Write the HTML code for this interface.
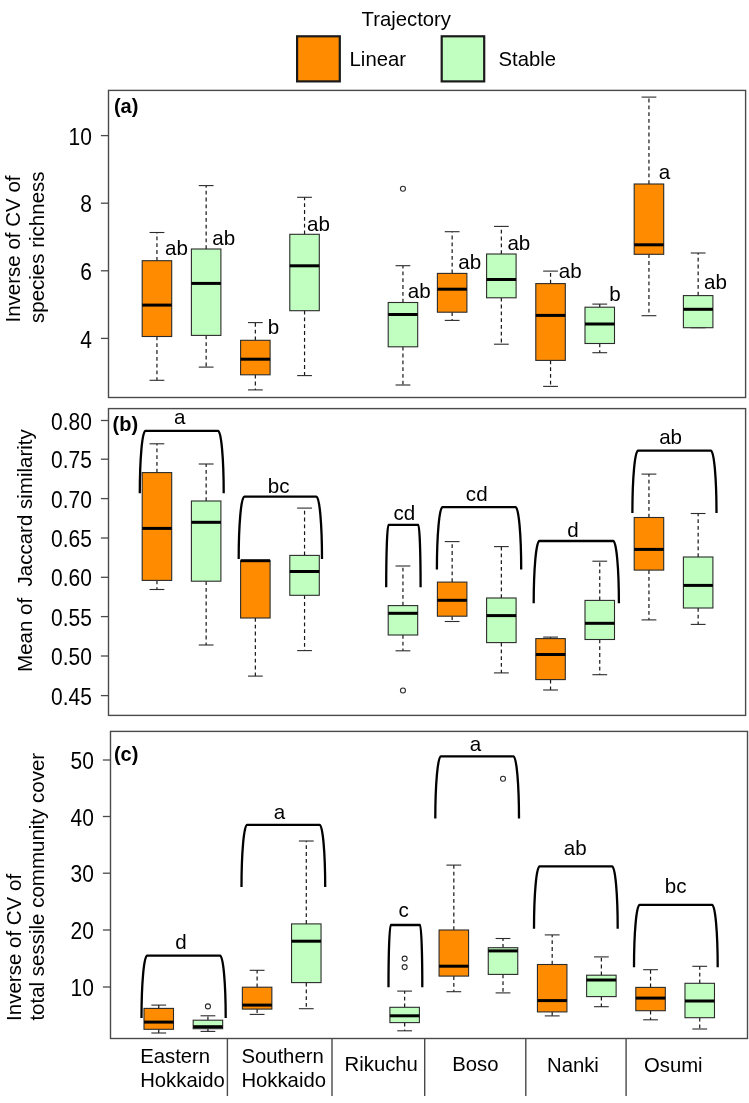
<!DOCTYPE html>
<html><head><meta charset="utf-8"><title>Boxplots</title><style>
html,body{margin:0;padding:0;background:#fff;}
body{width:749px;height:1103px;overflow:hidden;}
svg{display:block;will-change:transform;}
text{font-family:"Liberation Sans",sans-serif;fill:#000000;}

.t{font-size:20.3px;}
.tl{font-size:21.0px;}
.yt{font-size:20.5px;}
.lb{font-size:20.0px;}
.pl{font-size:20px;font-weight:bold;}
.fr{fill:none;stroke:#4a4a4a;stroke-width:1.4;}
.tk{stroke:#4a4a4a;stroke-width:1.3;}
.sp{stroke:#4a4a4a;stroke-width:1.4;}
.wk{stroke:#161616;stroke-width:1.2;stroke-dasharray:3.8 3.0;}
.cp{stroke:#2b2b2b;stroke-width:1.1;}
.bx{stroke:#2b2b2b;stroke-width:1.1;}
.md{stroke:#000;stroke-width:3;}
.ol{fill:none;stroke:#2b2b2b;stroke-width:1.1;}
.br{fill:none;stroke:#000;stroke-width:2.3;}
.lg{stroke:#1a1a1a;stroke-width:2.2;}
</style></head>
<body>
<svg width="749" height="1103" viewBox="0 0 749 1103">
<rect width="749" height="1103" fill="#fff"/>
<text x="361.6" y="25.7" class="t">Trajectory</text>
<rect x="297.1" y="36.3" width="42.7" height="45.1" fill="#FF8C00" class="lg"/>
<rect x="441.7" y="36.3" width="42.5" height="45.1" fill="#C1FFC1" class="lg"/>
<text x="349.6" y="66" class="t">Linear</text>
<text x="498.6" y="65.7" class="t">Stable</text>
<rect x="108.5" y="90.4" width="637.1" height="307.1" class="fr"/>
<line x1="100.9" y1="135.6" x2="108.5" y2="135.6" class="tk"/>
<text transform="translate(91.9,144.7) scale(1,1.12)" class="tl" text-anchor="end">10</text>
<line x1="100.9" y1="203.2" x2="108.5" y2="203.2" class="tk"/>
<text transform="translate(91.9,212.3) scale(1,1.12)" class="tl" text-anchor="end">8</text>
<line x1="100.9" y1="270.8" x2="108.5" y2="270.8" class="tk"/>
<text transform="translate(91.9,279.9) scale(1,1.12)" class="tl" text-anchor="end">6</text>
<line x1="100.9" y1="338.4" x2="108.5" y2="338.4" class="tk"/>
<text transform="translate(91.9,347.5) scale(1,1.12)" class="tl" text-anchor="end">4</text>
<text x="113.9" y="112.6" class="pl">(a)</text>
<rect x="108.5" y="408.6" width="637.1" height="306.8" class="fr"/>
<line x1="100.9" y1="420.5" x2="108.5" y2="420.5" class="tk"/>
<text transform="translate(91.9,429.6) scale(1,1.12)" class="tl" text-anchor="end">0.80</text>
<line x1="100.9" y1="459.2" x2="108.5" y2="459.2" class="tk"/>
<text transform="translate(91.9,468.3) scale(1,1.12)" class="tl" text-anchor="end">0.75</text>
<line x1="100.9" y1="498.6" x2="108.5" y2="498.6" class="tk"/>
<text transform="translate(91.9,507.7) scale(1,1.12)" class="tl" text-anchor="end">0.70</text>
<line x1="100.9" y1="538.0" x2="108.5" y2="538.0" class="tk"/>
<text transform="translate(91.9,547.1) scale(1,1.12)" class="tl" text-anchor="end">0.65</text>
<line x1="100.9" y1="577.3" x2="108.5" y2="577.3" class="tk"/>
<text transform="translate(91.9,586.4) scale(1,1.12)" class="tl" text-anchor="end">0.60</text>
<line x1="100.9" y1="616.6" x2="108.5" y2="616.6" class="tk"/>
<text transform="translate(91.9,625.7) scale(1,1.12)" class="tl" text-anchor="end">0.55</text>
<line x1="100.9" y1="656.0" x2="108.5" y2="656.0" class="tk"/>
<text transform="translate(91.9,665.1) scale(1,1.12)" class="tl" text-anchor="end">0.50</text>
<line x1="100.9" y1="695.6" x2="108.5" y2="695.6" class="tk"/>
<text transform="translate(91.9,704.7) scale(1,1.12)" class="tl" text-anchor="end">0.45</text>
<text x="112.5" y="430.6" class="pl">(b)</text>
<rect x="110.5" y="731.4" width="637" height="307.1" class="fr"/>
<line x1="102.9" y1="760.0" x2="110.5" y2="760.0" class="tk"/>
<text transform="translate(93.9,769.1) scale(1,1.12)" class="tl" text-anchor="end">50</text>
<line x1="102.9" y1="816.5" x2="110.5" y2="816.5" class="tk"/>
<text transform="translate(93.9,825.6) scale(1,1.12)" class="tl" text-anchor="end">40</text>
<line x1="102.9" y1="873.2" x2="110.5" y2="873.2" class="tk"/>
<text transform="translate(93.9,882.3) scale(1,1.12)" class="tl" text-anchor="end">30</text>
<line x1="102.9" y1="930.0" x2="110.5" y2="930.0" class="tk"/>
<text transform="translate(93.9,939.1) scale(1,1.12)" class="tl" text-anchor="end">20</text>
<line x1="102.9" y1="987.0" x2="110.5" y2="987.0" class="tk"/>
<text transform="translate(93.9,996.1) scale(1,1.12)" class="tl" text-anchor="end">10</text>
<text x="113.9" y="760.5" class="pl">(c)</text>
<line x1="156.95" y1="260.7" x2="156.95" y2="232.5" class="wk"/>
<line x1="156.95" y1="336.5" x2="156.95" y2="380.3" class="wk"/>
<line x1="149.55" y1="232.5" x2="164.35" y2="232.5" class="cp"/>
<line x1="149.55" y1="380.3" x2="164.35" y2="380.3" class="cp"/>
<rect x="142.2" y="260.7" width="29.5" height="75.8" fill="#FF8C00" class="bx"/>
<line x1="142.2" y1="305.1" x2="171.7" y2="305.1" class="md"/>
<line x1="206.15" y1="249" x2="206.15" y2="185.6" class="wk"/>
<line x1="206.15" y1="335.4" x2="206.15" y2="367.1" class="wk"/>
<line x1="198.75" y1="185.6" x2="213.55" y2="185.6" class="cp"/>
<line x1="198.75" y1="367.1" x2="213.55" y2="367.1" class="cp"/>
<rect x="191.4" y="249" width="29.5" height="86.4" fill="#C1FFC1" class="bx"/>
<line x1="191.4" y1="283.4" x2="220.9" y2="283.4" class="md"/>
<line x1="255.35" y1="340.3" x2="255.35" y2="322.6" class="wk"/>
<line x1="255.35" y1="374.8" x2="255.35" y2="389.9" class="wk"/>
<line x1="247.95" y1="322.6" x2="262.75" y2="322.6" class="cp"/>
<line x1="247.95" y1="389.9" x2="262.75" y2="389.9" class="cp"/>
<rect x="240.6" y="340.3" width="29.5" height="34.5" fill="#FF8C00" class="bx"/>
<line x1="240.6" y1="359.2" x2="270.1" y2="359.2" class="md"/>
<line x1="304.55" y1="234.3" x2="304.55" y2="197.3" class="wk"/>
<line x1="304.55" y1="310.7" x2="304.55" y2="375.6" class="wk"/>
<line x1="297.15" y1="197.3" x2="311.95" y2="197.3" class="cp"/>
<line x1="297.15" y1="375.6" x2="311.95" y2="375.6" class="cp"/>
<rect x="289.8" y="234.3" width="29.5" height="76.4" fill="#C1FFC1" class="bx"/>
<line x1="289.8" y1="265.8" x2="319.3" y2="265.8" class="md"/>
<line x1="402.95" y1="302.5" x2="402.95" y2="265.7" class="wk"/>
<line x1="402.95" y1="346.8" x2="402.95" y2="385" class="wk"/>
<line x1="395.55" y1="265.7" x2="410.35" y2="265.7" class="cp"/>
<line x1="395.55" y1="385" x2="410.35" y2="385" class="cp"/>
<rect x="388.2" y="302.5" width="29.5" height="44.3" fill="#C1FFC1" class="bx"/>
<line x1="388.2" y1="314.5" x2="417.7" y2="314.5" class="md"/>
<circle cx="402.95" cy="188.8" r="2.5" class="ol"/>
<line x1="452.15" y1="273.4" x2="452.15" y2="231.7" class="wk"/>
<line x1="452.15" y1="312.2" x2="452.15" y2="320.4" class="wk"/>
<line x1="444.75" y1="231.7" x2="459.55" y2="231.7" class="cp"/>
<line x1="444.75" y1="320.4" x2="459.55" y2="320.4" class="cp"/>
<rect x="437.4" y="273.4" width="29.5" height="38.8" fill="#FF8C00" class="bx"/>
<line x1="437.4" y1="289.2" x2="466.9" y2="289.2" class="md"/>
<line x1="501.35" y1="254" x2="501.35" y2="226.4" class="wk"/>
<line x1="501.35" y1="297.8" x2="501.35" y2="344.2" class="wk"/>
<line x1="493.95" y1="226.4" x2="508.75" y2="226.4" class="cp"/>
<line x1="493.95" y1="344.2" x2="508.75" y2="344.2" class="cp"/>
<rect x="486.6" y="254" width="29.5" height="43.8" fill="#C1FFC1" class="bx"/>
<line x1="486.6" y1="279.5" x2="516.1" y2="279.5" class="md"/>
<line x1="550.55" y1="283.6" x2="550.55" y2="271.1" class="wk"/>
<line x1="550.55" y1="360.4" x2="550.55" y2="386.4" class="wk"/>
<line x1="543.15" y1="271.1" x2="557.95" y2="271.1" class="cp"/>
<line x1="543.15" y1="386.4" x2="557.95" y2="386.4" class="cp"/>
<rect x="535.8" y="283.6" width="29.5" height="76.8" fill="#FF8C00" class="bx"/>
<line x1="535.8" y1="315.4" x2="565.3" y2="315.4" class="md"/>
<line x1="599.75" y1="307.2" x2="599.75" y2="304.1" class="wk"/>
<line x1="599.75" y1="343.5" x2="599.75" y2="352.7" class="wk"/>
<line x1="592.35" y1="304.1" x2="607.15" y2="304.1" class="cp"/>
<line x1="592.35" y1="352.7" x2="607.15" y2="352.7" class="cp"/>
<rect x="585" y="307.2" width="29.5" height="36.3" fill="#C1FFC1" class="bx"/>
<line x1="585" y1="324" x2="614.5" y2="324" class="md"/>
<line x1="648.95" y1="184" x2="648.95" y2="97.1" class="wk"/>
<line x1="648.95" y1="254.3" x2="648.95" y2="315.7" class="wk"/>
<line x1="641.55" y1="97.1" x2="656.35" y2="97.1" class="cp"/>
<line x1="641.55" y1="315.7" x2="656.35" y2="315.7" class="cp"/>
<rect x="634.2" y="184" width="29.5" height="70.3" fill="#FF8C00" class="bx"/>
<line x1="634.2" y1="244.8" x2="663.7" y2="244.8" class="md"/>
<line x1="698.15" y1="295.6" x2="698.15" y2="253" class="wk"/>
<line x1="690.75" y1="253" x2="705.55" y2="253" class="cp"/>
<line x1="690.75" y1="327.7" x2="705.55" y2="327.7" class="cp"/>
<rect x="683.4" y="295.6" width="29.5" height="32.1" fill="#C1FFC1" class="bx"/>
<line x1="683.4" y1="309.3" x2="712.9" y2="309.3" class="md"/>
<line x1="156.95" y1="472.6" x2="156.95" y2="443.8" class="wk"/>
<line x1="156.95" y1="580.4" x2="156.95" y2="589.5" class="wk"/>
<line x1="149.55" y1="443.8" x2="164.35" y2="443.8" class="cp"/>
<line x1="149.55" y1="589.5" x2="164.35" y2="589.5" class="cp"/>
<rect x="142.2" y="472.6" width="29.5" height="107.8" fill="#FF8C00" class="bx"/>
<line x1="142.2" y1="528.4" x2="171.7" y2="528.4" class="md"/>
<line x1="206.15" y1="501" x2="206.15" y2="464" class="wk"/>
<line x1="206.15" y1="581.2" x2="206.15" y2="645" class="wk"/>
<line x1="198.75" y1="464" x2="213.55" y2="464" class="cp"/>
<line x1="198.75" y1="645" x2="213.55" y2="645" class="cp"/>
<rect x="191.4" y="501" width="29.5" height="80.2" fill="#C1FFC1" class="bx"/>
<line x1="191.4" y1="522.3" x2="220.9" y2="522.3" class="md"/>
<line x1="255.35" y1="618" x2="255.35" y2="676.1" class="wk"/>
<line x1="247.95" y1="560.7" x2="262.75" y2="560.7" class="cp"/>
<line x1="247.95" y1="676.1" x2="262.75" y2="676.1" class="cp"/>
<rect x="240.6" y="560.7" width="29.5" height="57.3" fill="#FF8C00" class="bx"/>
<line x1="240.6" y1="560.7" x2="270.1" y2="560.7" class="md"/>
<line x1="304.55" y1="555.4" x2="304.55" y2="508.1" class="wk"/>
<line x1="304.55" y1="595.3" x2="304.55" y2="650.6" class="wk"/>
<line x1="297.15" y1="508.1" x2="311.95" y2="508.1" class="cp"/>
<line x1="297.15" y1="650.6" x2="311.95" y2="650.6" class="cp"/>
<rect x="289.8" y="555.4" width="29.5" height="39.9" fill="#C1FFC1" class="bx"/>
<line x1="289.8" y1="571.5" x2="319.3" y2="571.5" class="md"/>
<line x1="402.95" y1="605.6" x2="402.95" y2="566" class="wk"/>
<line x1="402.95" y1="635" x2="402.95" y2="650.8" class="wk"/>
<line x1="395.55" y1="566" x2="410.35" y2="566" class="cp"/>
<line x1="395.55" y1="650.8" x2="410.35" y2="650.8" class="cp"/>
<rect x="388.2" y="605.6" width="29.5" height="29.4" fill="#C1FFC1" class="bx"/>
<line x1="388.2" y1="613.3" x2="417.7" y2="613.3" class="md"/>
<circle cx="402.95" cy="690.5" r="2.5" class="ol"/>
<line x1="452.15" y1="582.1" x2="452.15" y2="541.6" class="wk"/>
<line x1="452.15" y1="616.2" x2="452.15" y2="621.5" class="wk"/>
<line x1="444.75" y1="541.6" x2="459.55" y2="541.6" class="cp"/>
<line x1="444.75" y1="621.5" x2="459.55" y2="621.5" class="cp"/>
<rect x="437.4" y="582.1" width="29.5" height="34.1" fill="#FF8C00" class="bx"/>
<line x1="437.4" y1="600.3" x2="466.9" y2="600.3" class="md"/>
<line x1="501.35" y1="598" x2="501.35" y2="546.6" class="wk"/>
<line x1="501.35" y1="642.6" x2="501.35" y2="672.9" class="wk"/>
<line x1="493.95" y1="546.6" x2="508.75" y2="546.6" class="cp"/>
<line x1="493.95" y1="672.9" x2="508.75" y2="672.9" class="cp"/>
<rect x="486.6" y="598" width="29.5" height="44.6" fill="#C1FFC1" class="bx"/>
<line x1="486.6" y1="615.6" x2="516.1" y2="615.6" class="md"/>
<line x1="550.55" y1="638.6" x2="550.55" y2="637.1" class="wk"/>
<line x1="550.55" y1="679.6" x2="550.55" y2="690" class="wk"/>
<line x1="543.15" y1="637.1" x2="557.95" y2="637.1" class="cp"/>
<line x1="543.15" y1="690" x2="557.95" y2="690" class="cp"/>
<rect x="535.8" y="638.6" width="29.5" height="41" fill="#FF8C00" class="bx"/>
<line x1="535.8" y1="654.5" x2="565.3" y2="654.5" class="md"/>
<line x1="599.75" y1="600.4" x2="599.75" y2="561.2" class="wk"/>
<line x1="599.75" y1="639.5" x2="599.75" y2="674.7" class="wk"/>
<line x1="592.35" y1="561.2" x2="607.15" y2="561.2" class="cp"/>
<line x1="592.35" y1="674.7" x2="607.15" y2="674.7" class="cp"/>
<rect x="585" y="600.4" width="29.5" height="39.1" fill="#C1FFC1" class="bx"/>
<line x1="585" y1="623.3" x2="614.5" y2="623.3" class="md"/>
<line x1="648.95" y1="517.5" x2="648.95" y2="474.1" class="wk"/>
<line x1="648.95" y1="570.1" x2="648.95" y2="619.9" class="wk"/>
<line x1="641.55" y1="474.1" x2="656.35" y2="474.1" class="cp"/>
<line x1="641.55" y1="619.9" x2="656.35" y2="619.9" class="cp"/>
<rect x="634.2" y="517.5" width="29.5" height="52.6" fill="#FF8C00" class="bx"/>
<line x1="634.2" y1="549.4" x2="663.7" y2="549.4" class="md"/>
<line x1="698.15" y1="557" x2="698.15" y2="513.5" class="wk"/>
<line x1="698.15" y1="608" x2="698.15" y2="624.4" class="wk"/>
<line x1="690.75" y1="513.5" x2="705.55" y2="513.5" class="cp"/>
<line x1="690.75" y1="624.4" x2="705.55" y2="624.4" class="cp"/>
<rect x="683.4" y="557" width="29.5" height="51" fill="#C1FFC1" class="bx"/>
<line x1="683.4" y1="585.4" x2="712.9" y2="585.4" class="md"/>
<line x1="158.75" y1="1008.4" x2="158.75" y2="1005.1" class="wk"/>
<line x1="158.75" y1="1029.3" x2="158.75" y2="1033" class="wk"/>
<line x1="151.35" y1="1005.1" x2="166.15" y2="1005.1" class="cp"/>
<line x1="151.35" y1="1033" x2="166.15" y2="1033" class="cp"/>
<rect x="144" y="1008.4" width="29.5" height="20.9" fill="#FF8C00" class="bx"/>
<line x1="144" y1="1022.1" x2="173.5" y2="1022.1" class="md"/>
<line x1="207.93" y1="1020.2" x2="207.93" y2="1015.8" class="wk"/>
<line x1="207.93" y1="1028.7" x2="207.93" y2="1031.4" class="wk"/>
<line x1="200.53" y1="1015.8" x2="215.33" y2="1015.8" class="cp"/>
<line x1="200.53" y1="1031.4" x2="215.33" y2="1031.4" class="cp"/>
<rect x="193.18" y="1020.2" width="29.5" height="8.5" fill="#C1FFC1" class="bx"/>
<line x1="193.18" y1="1026.7" x2="222.68" y2="1026.7" class="md"/>
<circle cx="207.93" cy="1006.4" r="2.5" class="ol"/>
<line x1="257.11" y1="987.2" x2="257.11" y2="970.3" class="wk"/>
<line x1="257.11" y1="1009.1" x2="257.11" y2="1014.4" class="wk"/>
<line x1="249.71" y1="970.3" x2="264.51" y2="970.3" class="cp"/>
<line x1="249.71" y1="1014.4" x2="264.51" y2="1014.4" class="cp"/>
<rect x="242.36" y="987.2" width="29.5" height="21.9" fill="#FF8C00" class="bx"/>
<line x1="242.36" y1="1005.1" x2="271.86" y2="1005.1" class="md"/>
<line x1="306.29" y1="923.9" x2="306.29" y2="841" class="wk"/>
<line x1="306.29" y1="982.6" x2="306.29" y2="1008.7" class="wk"/>
<line x1="298.89" y1="841" x2="313.69" y2="841" class="cp"/>
<line x1="298.89" y1="1008.7" x2="313.69" y2="1008.7" class="cp"/>
<rect x="291.54" y="923.9" width="29.5" height="58.7" fill="#C1FFC1" class="bx"/>
<line x1="291.54" y1="941.2" x2="321.04" y2="941.2" class="md"/>
<line x1="404.65" y1="1007.3" x2="404.65" y2="991.1" class="wk"/>
<line x1="404.65" y1="1022.6" x2="404.65" y2="1030.8" class="wk"/>
<line x1="397.25" y1="991.1" x2="412.05" y2="991.1" class="cp"/>
<line x1="397.25" y1="1030.8" x2="412.05" y2="1030.8" class="cp"/>
<rect x="389.9" y="1007.3" width="29.5" height="15.3" fill="#C1FFC1" class="bx"/>
<line x1="389.9" y1="1015.8" x2="419.4" y2="1015.8" class="md"/>
<circle cx="404.65" cy="958.6" r="2.5" class="ol"/>
<circle cx="404.65" cy="967.1" r="2.5" class="ol"/>
<line x1="453.83" y1="930" x2="453.83" y2="865.1" class="wk"/>
<line x1="453.83" y1="976.1" x2="453.83" y2="991.7" class="wk"/>
<line x1="446.43" y1="865.1" x2="461.23" y2="865.1" class="cp"/>
<line x1="446.43" y1="991.7" x2="461.23" y2="991.7" class="cp"/>
<rect x="439.08" y="930" width="29.5" height="46.1" fill="#FF8C00" class="bx"/>
<line x1="439.08" y1="966.2" x2="468.58" y2="966.2" class="md"/>
<line x1="503.01" y1="947.7" x2="503.01" y2="938.5" class="wk"/>
<line x1="503.01" y1="974.4" x2="503.01" y2="992.9" class="wk"/>
<line x1="495.61" y1="938.5" x2="510.41" y2="938.5" class="cp"/>
<line x1="495.61" y1="992.9" x2="510.41" y2="992.9" class="cp"/>
<rect x="488.26" y="947.7" width="29.5" height="26.7" fill="#C1FFC1" class="bx"/>
<line x1="488.26" y1="950.9" x2="517.76" y2="950.9" class="md"/>
<circle cx="503.01" cy="778.8" r="2.5" class="ol"/>
<line x1="552.19" y1="964.5" x2="552.19" y2="934.9" class="wk"/>
<line x1="552.19" y1="1011.9" x2="552.19" y2="1015.9" class="wk"/>
<line x1="544.79" y1="934.9" x2="559.59" y2="934.9" class="cp"/>
<line x1="544.79" y1="1015.9" x2="559.59" y2="1015.9" class="cp"/>
<rect x="537.44" y="964.5" width="29.5" height="47.4" fill="#FF8C00" class="bx"/>
<line x1="537.44" y1="1000.6" x2="566.94" y2="1000.6" class="md"/>
<line x1="601.37" y1="975.2" x2="601.37" y2="956.9" class="wk"/>
<line x1="601.37" y1="996.6" x2="601.37" y2="1006.7" class="wk"/>
<line x1="593.97" y1="956.9" x2="608.77" y2="956.9" class="cp"/>
<line x1="593.97" y1="1006.7" x2="608.77" y2="1006.7" class="cp"/>
<rect x="586.62" y="975.2" width="29.5" height="21.4" fill="#C1FFC1" class="bx"/>
<line x1="586.62" y1="980" x2="616.12" y2="980" class="md"/>
<line x1="650.55" y1="987.4" x2="650.55" y2="969.7" class="wk"/>
<line x1="650.55" y1="1010.7" x2="650.55" y2="1019.8" class="wk"/>
<line x1="643.15" y1="969.7" x2="657.95" y2="969.7" class="cp"/>
<line x1="643.15" y1="1019.8" x2="657.95" y2="1019.8" class="cp"/>
<rect x="635.8" y="987.4" width="29.5" height="23.3" fill="#FF8C00" class="bx"/>
<line x1="635.8" y1="998.1" x2="665.3" y2="998.1" class="md"/>
<line x1="699.73" y1="983.3" x2="699.73" y2="966.3" class="wk"/>
<line x1="699.73" y1="1017.7" x2="699.73" y2="1029" class="wk"/>
<line x1="692.33" y1="966.3" x2="707.13" y2="966.3" class="cp"/>
<line x1="692.33" y1="1029" x2="707.13" y2="1029" class="cp"/>
<rect x="684.98" y="983.3" width="29.5" height="34.4" fill="#C1FFC1" class="bx"/>
<line x1="684.98" y1="1001" x2="714.48" y2="1001" class="md"/>
<text transform="translate(165,255.4) scale(1.03,1)" class="lb">ab</text>
<text transform="translate(212.3,244.8) scale(1.03,1)" class="lb">ab</text>
<text transform="translate(267.7,334.4) scale(1.03,1)" class="lb">b</text>
<text transform="translate(307.1,231.0) scale(1.03,1)" class="lb">ab</text>
<text transform="translate(407.8,297.5) scale(1.03,1)" class="lb">ab</text>
<text transform="translate(458.3,269.3) scale(1.03,1)" class="lb">ab</text>
<text transform="translate(507.4,249.6) scale(1.03,1)" class="lb">ab</text>
<text transform="translate(558.8,277.8) scale(1.03,1)" class="lb">ab</text>
<text transform="translate(609.3,300.7) scale(1.03,1)" class="lb">b</text>
<text transform="translate(658.8,179.4) scale(1.03,1)" class="lb">a</text>
<text transform="translate(704.1,288.5) scale(1.03,1)" class="lb">ab</text>
<path d="M139.8 493.2 A5.54 62.3 0 0 1 145.34 430.9 L218.16 430.9 A5.54 62.3 0 0 1 223.7 493.2" class="br"/>
<text transform="translate(179.6,424.4) scale(1.03,1)" class="lb" text-anchor="middle">a</text>
<path d="M238.7 559 A5.5 62.3 0 0 1 244.2 496.7 L316.5 496.7 A5.5 62.3 0 0 1 322 559" class="br"/>
<text transform="translate(278.7,493.2) scale(1.03,1)" class="lb" text-anchor="middle">bc</text>
<path d="M386.2 587.2 A2.27 62.3 0 0 1 388.47 524.9 L418.33 524.9 A2.27 62.3 0 0 1 420.6 587.2" class="br"/>
<text transform="translate(404.3,519.6) scale(1.03,1)" class="lb" text-anchor="middle">cd</text>
<path d="M436.9 569.4 A5.56 62.3 0 0 1 442.46 507.1 L515.64 507.1 A5.56 62.3 0 0 1 521.2 569.4" class="br"/>
<text transform="translate(476.7,500.9) scale(1.03,1)" class="lb" text-anchor="middle">cd</text>
<path d="M533.7 603.3 A5.62 62.3 0 0 1 539.32 541 L613.28 541 A5.62 62.3 0 0 1 618.9 603.3" class="br"/>
<text transform="translate(573,536.6) scale(1.03,1)" class="lb" text-anchor="middle">d</text>
<path d="M632.4 513 A5.55 62.3 0 0 1 637.95 450.7 L710.95 450.7 A5.55 62.3 0 0 1 716.5 513" class="br"/>
<text transform="translate(670.6,444.4) scale(1.03,1)" class="lb" text-anchor="middle">ab</text>
<path d="M141.5 1017.9 A5.56 62.3 0 0 1 147.06 955.6 L220.14 955.6 A5.56 62.3 0 0 1 225.7 1017.9" class="br"/>
<text transform="translate(181,949) scale(1.03,1)" class="lb" text-anchor="middle">d</text>
<path d="M241.5 887.1 A5.52 62.3 0 0 1 247.02 824.8 L319.68 824.8 A5.52 62.3 0 0 1 325.2 887.1" class="br"/>
<text transform="translate(279.5,819) scale(1.03,1)" class="lb" text-anchor="middle">a</text>
<path d="M388.5 987.3 A2.23 62.3 0 0 1 390.73 925 L420.07 925 A2.23 62.3 0 0 1 422.3 987.3" class="br"/>
<text transform="translate(403.7,916.9) scale(1.03,1)" class="lb" text-anchor="middle">c</text>
<path d="M435.3 818.6 A5.52 62.3 0 0 1 440.82 756.3 L513.48 756.3 A5.52 62.3 0 0 1 519 818.6" class="br"/>
<text transform="translate(475.5,750.9) scale(1.03,1)" class="lb" text-anchor="middle">a</text>
<path d="M534 928.7 A5.52 62.3 0 0 1 539.52 866.4 L612.18 866.4 A5.52 62.3 0 0 1 617.7 928.7" class="br"/>
<text transform="translate(575.3,855.1) scale(1.03,1)" class="lb" text-anchor="middle">ab</text>
<path d="M634 967.2 A5.52 62.3 0 0 1 639.52 904.9 L712.18 904.9 A5.52 62.3 0 0 1 717.7 967.2" class="br"/>
<text transform="translate(675.6,892.7) scale(1.03,1)" class="lb" text-anchor="middle">bc</text>
<text transform="translate(19.8,322.5) rotate(-90)" class="yt" text-anchor="start">Inverse of CV of</text>
<text transform="translate(44.0,323.0) rotate(-90)" class="yt" text-anchor="start">species richness</text>
<text transform="translate(31.8,671.9) rotate(-90)" class="yt" text-anchor="start">Mean of&#160; Jaccard similarity</text>
<text transform="translate(21.1,1020.9) rotate(-90)" class="yt" text-anchor="start">Inverse of CV of</text>
<text transform="translate(43.7,1020.6) rotate(-90)" class="yt" text-anchor="start">total sessile community cover</text>
<line x1="227.4" y1="1038.5" x2="227.4" y2="1096" class="sp"/>
<line x1="332.0" y1="1038.5" x2="332.0" y2="1096" class="sp"/>
<line x1="424.7" y1="1038.5" x2="424.7" y2="1096" class="sp"/>
<line x1="525.8" y1="1038.5" x2="525.8" y2="1096" class="sp"/>
<line x1="626.1" y1="1038.5" x2="626.1" y2="1096" class="sp"/>
<text x="140.2" y="1062.5" class="t">Eastern</text>
<text x="140.2" y="1086.9" class="t">Hokkaido</text>
<text x="241.4" y="1062.5" class="t">Southern</text>
<text x="241.4" y="1086.9" class="t">Hokkaido</text>
<text x="344.6" y="1071.3" class="t">Rikuchu</text>
<text x="452.3" y="1071.3" class="t">Boso</text>
<text x="547.0" y="1071.5" class="t">Nanki</text>
<text x="644.0" y="1071.5" class="t">Osumi</text>
</svg>
</body></html>
